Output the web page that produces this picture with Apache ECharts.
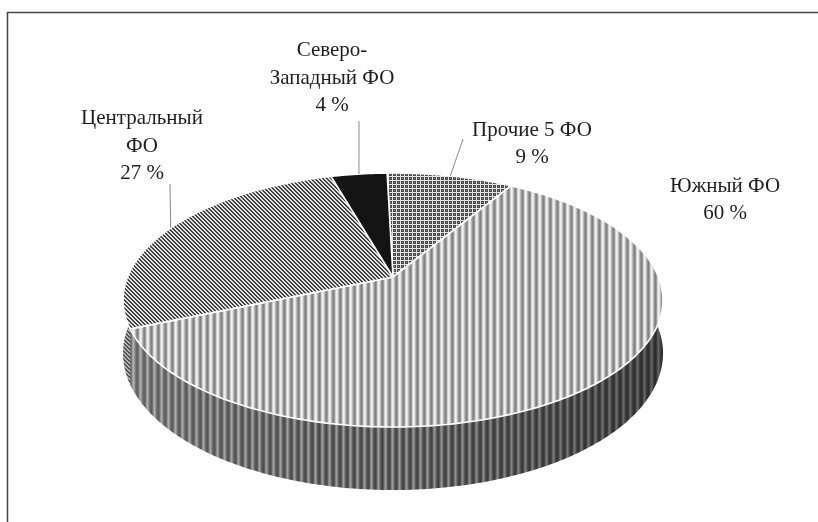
<!DOCTYPE html>
<html><head><meta charset="utf-8">
<script src="https://cdn.jsdelivr.net/npm/echarts/dist/echarts.min.js"></script>
<style>html,body{margin:0;padding:0;background:#fff}#c{width:818px;height:522px}</style>
</head><body><div id="c"></div>
<script>
// ---- data ----
const categories = ['Прочие 5 ФО', 'Южный ФО', 'Центральный ФО', 'Северо-Западный ФО'];
const values = [9, 60, 27, 4];
const labelNames = ['Прочие 5 ФО', 'Южный ФО', 'Центральный\nФО', 'Северо-\nЗападный ФО'];

// ---- layout (geometry of the projected 3D pie) ----
const CX = 393, A = 265.5, C = -0.1811, YA = 72.67, YB = 277, H = 51.6, ROT = -1.5;
const labelLayout = [
  {x: 532, y: 144, lx: 463, ly: 139},
  {x: 725, y: 200},
  {x: 142, y: 146, lx: 170, ly: 184},
  {x: 332, y: 78, lx: 359, ly: 121}
];

function proj(thetaDeg, down) {
  const t = (thetaDeg + ROT) * Math.PI / 180;
  const u = Math.sin(t), v = -Math.cos(t);
  const d = 1 + C * v;
  return [CX + A * u / d, (YA * v + YB) / d + (down ? H / d : 0)];
}
function arcPts(a, b, down) {
  const pts = [];
  const n = Math.max(2, Math.ceil(Math.abs(b - a)));
  for (let k = 0; k <= n; k++) pts.push(proj(a + (b - a) * k / n, down));
  return pts;
}
function tile(w, h, fn) {
  const c = document.createElement('canvas');
  c.width = w; c.height = h;
  const ctx = c.getContext('2d');
  const img = ctx.createImageData(w, h);
  for (let y = 0; y < h; y++) for (let x = 0; x < w; x++) {
    const g = fn(x, y), o = (y * w + x) * 4;
    img.data[o] = g; img.data[o + 1] = g; img.data[o + 2] = g; img.data[o + 3] = 255;
  }
  ctx.putImageData(img, 0, 0);
  return c;
}
const vTop = [242, 225, 188, 148, 130, 155, 210];
const vWall = [165, 135, 100, 80, 72, 95, 135];
const dTop = [50, 90, 232, 212];
const dWall = [40, 70, 175, 150];
const patTop = [
  {image: tile(4, 4, (x, y) => (x === 0 || y === 0) ? 228 : ((x === 2 && y === 2) ? 135 : 72)), repeat: 'repeat'},
  {image: tile(7, 1, (x) => vTop[x]), repeat: 'repeat'},
  {image: tile(4, 4, (x, y) => dTop[((x - y) % 4 + 4) % 4]), repeat: 'repeat'},
  '#141414'
];
const patWall = [
  {image: tile(4, 4, (x, y) => (x === 0 || y === 0) ? 160 : 50), repeat: 'repeat'},
  {image: tile(7, 1, (x) => vWall[x]), repeat: 'repeat'},
  {image: tile(4, 4, (x, y) => dWall[((x - y) % 4 + 4) % 4]), repeat: 'repeat'},
  '#0a0a0a'
];

const total = values.reduce((s, v) => s + v, 0);
const starts = [];
{ let acc = 0; values.forEach(v => { starts.push(acc / total * 360); acc += v; }); }

function renderWall(params, api) {
  const i = params.dataIndex;
  const a = starts[i], b = a + api.value(0) / total * 360;
  const p = Math.max(a, 80 - ROT), q = Math.min(b, 280 - ROT);
  if (q <= p) return {type: 'group', children: []};
  const top = arcPts(p, q, false), bot = arcPts(p, q, true).reverse();
  const pts = top.concat(bot);
  return {
    type: 'group',
    children: [
      {type: 'polygon', shape: {points: pts}, style: {fill: patWall[i], stroke: null}},
      {type: 'polygon', shape: {points: pts}, style: {
        fill: new echarts.graphic.LinearGradient(CX - A, 0, CX + A, 0, [
          {offset: 0, color: 'rgba(255,255,255,0.15)'},
          {offset: 0.5, color: 'rgba(0,0,0,0.05)'},
          {offset: 1, color: 'rgba(0,0,0,0.40)'}
        ], true), stroke: null}}
    ]
  };
}

function renderTop(params, api) {
  const i = params.dataIndex;
  const v = api.value(0);
  const a = starts[i], b = a + v / total * 360;
  const pts = [[CX, YB]].concat(arcPts(a, b, false));
  const children = [
    {type: 'polygon', shape: {points: pts},
      style: {fill: patTop[i], stroke: '#ffffff', lineWidth: 1.6, lineJoin: 'round'}}
  ];
  const L = labelLayout[i];
  children.push({type: 'text', style: {
    text: labelNames[i] + '\n' + v + ' %', x: L.x, y: L.y, align: 'center', verticalAlign: 'middle',
    fontFamily: '"Liberation Serif", "DejaVu Serif", serif', fontSize: 21, lineHeight: 27.5, fill: '#1e1e1e'
  }});
  if (L.lx != null) {
    const e = proj((a + b) / 2, false);
    children.push({type: 'line', shape: {x1: L.lx, y1: L.ly, x2: e[0], y2: e[1]},
      style: {stroke: '#8a8a8a', lineWidth: 1}});
  }
  return {type: 'group', children};
}

const chart = echarts.init(document.getElementById('c'), null, {renderer: 'canvas'});
chart.setOption({
  animation: false,
  backgroundColor: '#fff',
  graphic: [{type: 'polyline', shape: {points: [[7.5, 522], [7.5, 12.5], [818, 12.5]]},
    style: {stroke: '#444', lineWidth: 1.5, fill: null}, z: 0}],
  series: [
    {type: 'custom', coordinateSystem: 'none', renderItem: renderWall, data: values.map((v, i) => ({name: categories[i], value: [v]})), z: 1, silent: true},
    {type: 'custom', coordinateSystem: 'none', renderItem: renderTop, data: values.map((v, i) => ({name: categories[i], value: [v]})), z: 2, silent: true}
  ]
});
</script></body></html>
